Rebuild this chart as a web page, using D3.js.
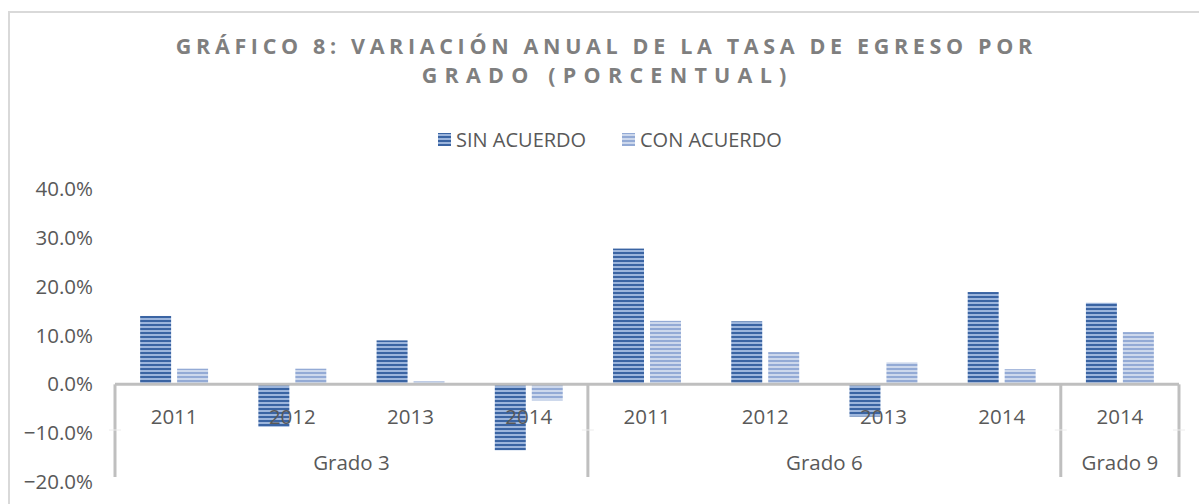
<!DOCTYPE html>
<html>
<head>
<meta charset="utf-8">
<script src="https://cdn.jsdelivr.net/npm/d3@7"></script>
<style>
	body { margin: 0; background: #fff; }
	text { font-family: "Open Sans", sans-serif; }
</style>
</head>
<body>
<div id="chart"></div>
<script>
// data
var grupos = ['Grado 3', 'Grado 6', 'Grado 9'];
var anios = [['2011', '2012', '2013', '2014'], ['2011', '2012', '2013', '2014'], ['2014']];
var sinAcuerdo = [14.0, -8.7, 9.0, -13.5, 27.8, 12.9, -6.6, 18.9, 16.7];
var conAcuerdo = [3.2, 3.2, 0.6, -3.3, 13.0, 6.6, 4.5, 3.1, 10.7];
var series = ['SIN ACUERDO', 'CON ACUERDO'];
var yTicks = [40, 30, 20, 10, 0, -10, -20];
var titulo = ['GRÁFICO 8: VARIACIÓN ANUAL DE LA TASA DE EGRESO POR', 'GRADO (PORCENTUAL)'];

var width = 1199, height = 504;
var plotLeft = 115, plotRight = 1179;
var plotTop = 189, plotBottom = 482;
var labelSize = '20.5px';

var svg = d3.select('#chart')
	.append('svg')
	.attr('width', width)
	.attr('height', height);

// stripes
var defs = svg.append('defs');
function stripes(id, dark, light){
	var p = defs.append('pattern')
		.attr('id', id)
		.attr('patternUnits', 'userSpaceOnUse')
		.attr('width', 8)
		.attr('height', 4);
	p.append('rect').attr('width', 8).attr('height', 4).attr('fill', light);
	p.append('rect').attr('width', 8).attr('height', 2).attr('fill', dark);
}
stripes('sin', '#3a64a3', '#9cb5dc');
stripes('con', '#93aad5', '#cdd8ec');

// outer frame
svg.append('rect')
	.attr('x', 9).attr('y', 12)
	.attr('width', 1250).attr('height', 600)
	.attr('fill', 'none')
	.attr('stroke', '#d9d9d9')
	.attr('stroke-width', 2);

// title, letter spacing fitted to the reference width
var titleW = [861, 372];
titulo.forEach(function(t, i){
	var tx = svg.append('text')
		.attr('x', 604)
		.attr('y', 54 + i * 29)
		.attr('text-anchor', 'middle')
		.attr('fill', '#7f7f7f')
		.style('font-size', '21.5px')
		.style('font-weight', 'bold')
		.text(t);
	var w = tx.node().getComputedTextLength();
	var ls = (titleW[i] - w) / t.length;
	tx.style('letter-spacing', ls + 'px').attr('x', 604 + ls / 2);
});

// legend
var legend = svg.append('g');
var legX = [438, 622];
series.forEach(function(s, i){
	legend.append('rect')
		.attr('x', legX[i]).attr('y', 133)
		.attr('width', 13).attr('height', 13)
		.attr('fill', i == 0 ? 'url(#sin)' : 'url(#con)');
	legend.append('text')
		.attr('x', legX[i] + 18).attr('y', 147)
		.attr('fill', '#595959')
		.style('font-size', '20px')
		.text(s);
});

// scales
var y = d3.scaleLinear().domain([-20, 40]).range([plotBottom, plotTop]);

var cats = [];
anios.forEach(function(a, g){ a.forEach(function(yr){ cats.push(g + '|' + yr); }); });

var x = d3.scaleBand().domain(cats).range([plotLeft, plotRight]).paddingInner(0).paddingOuter(0);
var inner = d3.scaleBand().domain(series).range([0, x.bandwidth()]).paddingInner(0.162).paddingOuter(0.68);

// y axis labels
svg.selectAll('.ytick')
	.data(yTicks)
	.enter()
	.append('text')
	.attr('class', 'ytick')
	.attr('x', 93)
	.attr('y', function(d){ return y(d) + 7; })
	.attr('text-anchor', 'end')
	.attr('fill', '#595959')
	.style('font-size', labelSize)
	.text(function(d){ return d3.format('.1f')(d) + '%'; });

// bars
var rows = [];
cats.forEach(function(c, i){
	rows.push({cat: c, s: series[0], v: sinAcuerdo[i], fill: 'url(#sin)'});
	rows.push({cat: c, s: series[1], v: conAcuerdo[i], fill: 'url(#con)'});
});

svg.append('g')
	.selectAll('rect')
	.data(rows)
	.enter()
	.append('rect')
	.attr('x', function(d){ return x(d.cat) + inner(d.s); })
	.attr('y', function(d){ return y(Math.max(0, d.v)); })
	.attr('width', inner.bandwidth())
	.attr('height', function(d){ return Math.abs(y(d.v) - y(0)); })
	.attr('fill', function(d){ return d.fill; });

// category axis
var axisG = svg.append('g');
axisG.append('line')
	.attr('x1', plotLeft).attr('x2', plotRight)
	.attr('y1', y(0)).attr('y2', y(0))
	.attr('stroke', '#bfbfbf').attr('stroke-width', 3);

var bounds = [0];
var n = 0;
anios.forEach(function(a){ n += a.length; bounds.push(n); });
function bx(b){ return b < cats.length ? x(cats[b]) : plotRight; }

axisG.selectAll('.sep')
	.data(bounds)
	.enter()
	.append('line')
	.attr('x1', bx)
	.attr('x2', bx)
	.attr('y1', y(0))
	.attr('y2', 477)
	.attr('stroke', '#bfbfbf')
	.attr('stroke-width', 3);

// faint row dividers
axisG.selectAll('.row')
	.data(bounds)
	.enter()
	.append('line')
	.attr('x1', function(d){ return bx(d) - 6; })
	.attr('x2', function(d){ return bx(d) + 6; })
	.attr('y1', 430).attr('y2', 430)
	.attr('stroke', '#ececec')
	.attr('stroke-width', 1);

axisG.selectAll('.yr')
	.data(cats)
	.enter()
	.append('text')
	.attr('x', function(d){ return x(d) + x.bandwidth() / 2; })
	.attr('y', 424)
	.attr('text-anchor', 'middle')
	.attr('fill', '#595959')
	.style('font-size', labelSize)
	.text(function(d){ return d.split('|')[1]; });

axisG.selectAll('.grp')
	.data(grupos)
	.enter()
	.append('text')
	.attr('x', function(d, i){ return (bx(bounds[i]) + bx(bounds[i + 1])) / 2; })
	.attr('y', 470)
	.attr('text-anchor', 'middle')
	.attr('fill', '#595959')
	.style('font-size', labelSize)
	.text(function(d){ return d; });
</script>
</body>
</html>
